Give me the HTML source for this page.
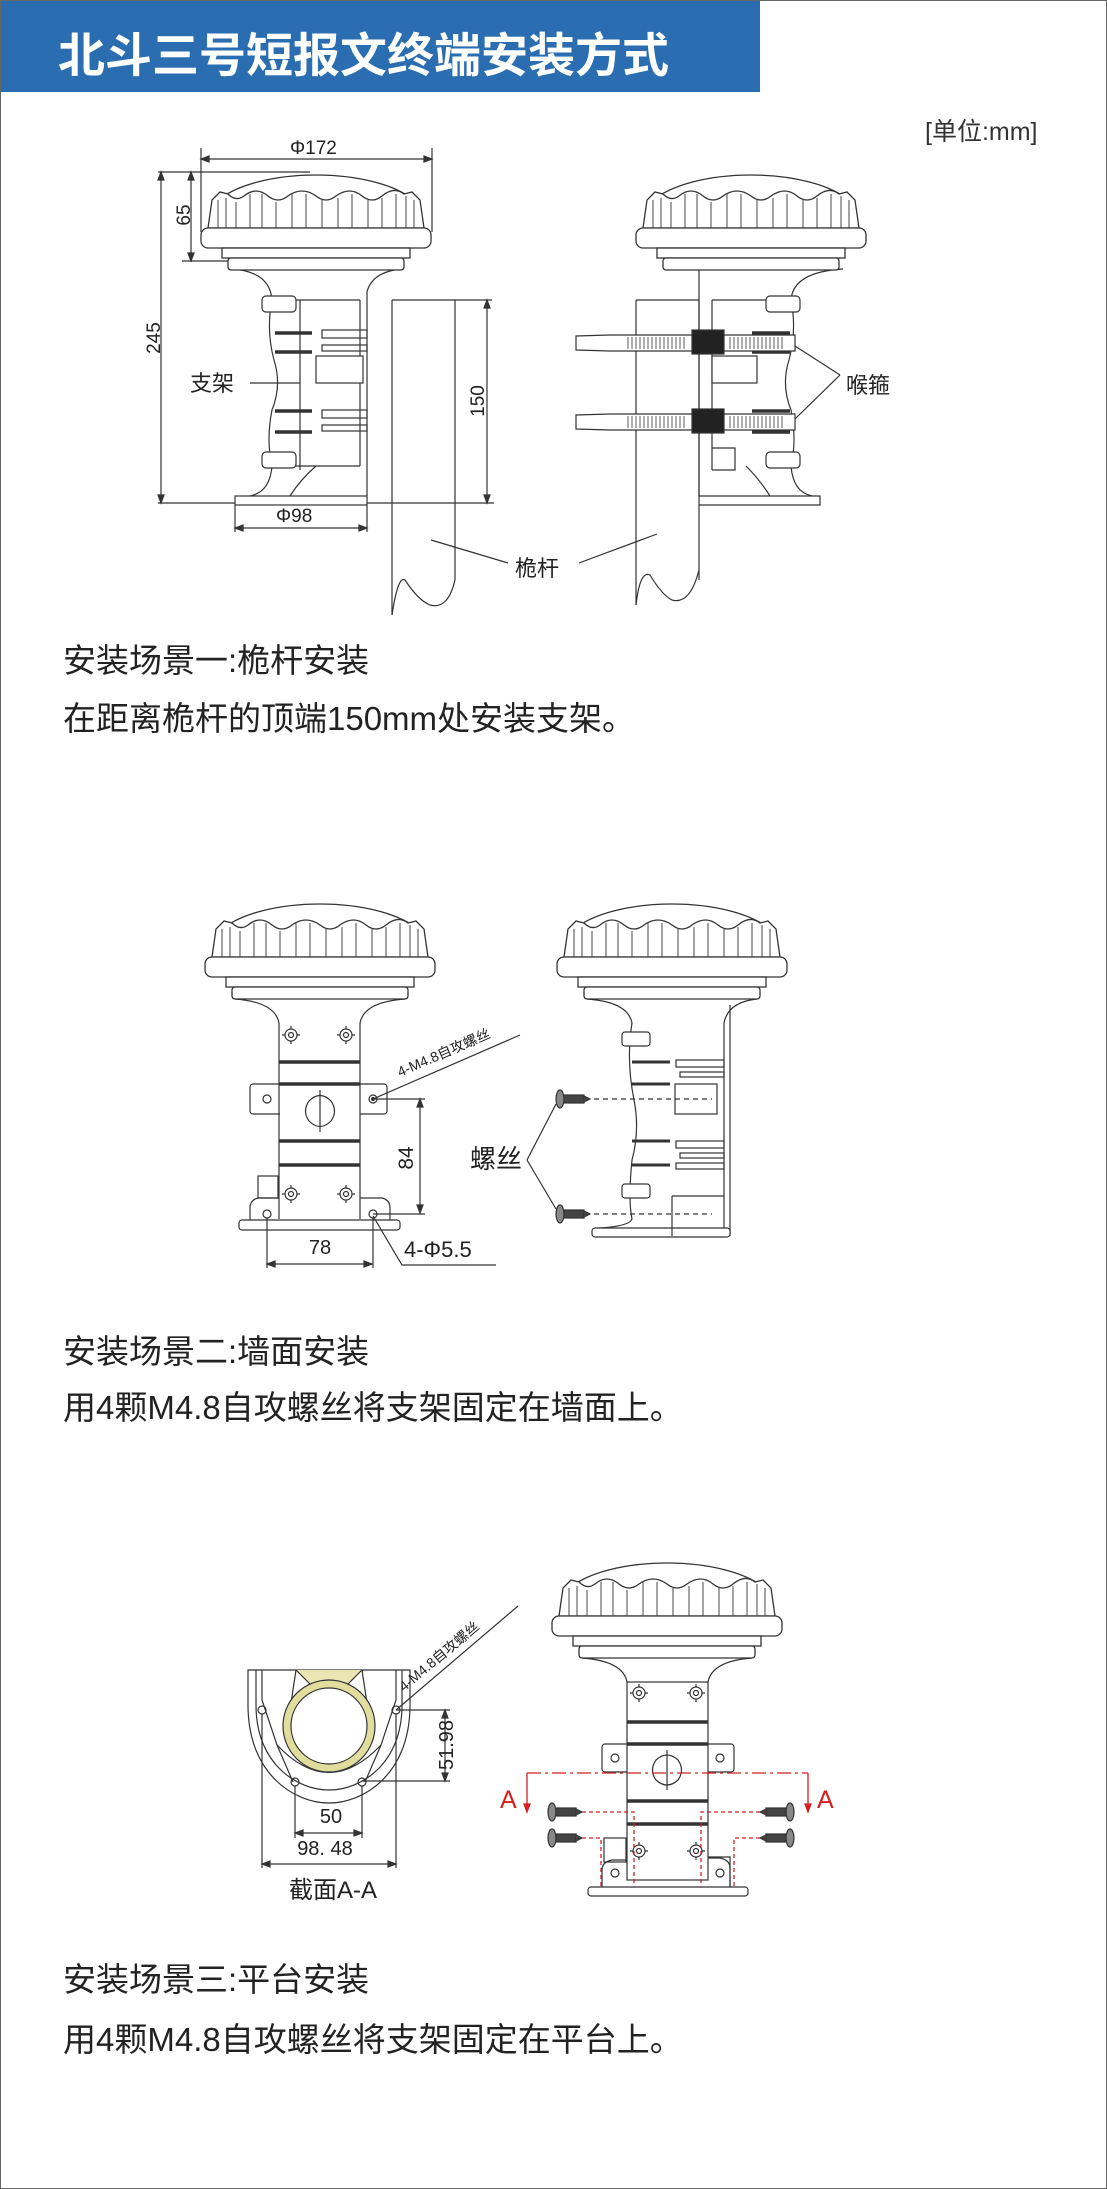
<!DOCTYPE html>
<html><head><meta charset="utf-8"><style>
html,body{margin:0;padding:0;background:#fff}
body{width:1107px;height:2189px;position:relative;overflow:hidden;font-family:"Liberation Sans","Noto Sans CJK SC",sans-serif}
.frame{position:absolute;left:0;top:0;width:1105px;height:2187px;border:1px solid #666}
.hdr{position:absolute;left:1px;top:1px;width:759px;height:91px;background:#2a6db0}
.hdr span{position:absolute;left:57px;top:16px;color:#fff;font-size:47px;font-weight:bold;letter-spacing:0px;font-family:"Liberation Sans","Noto Sans CJK SC",sans-serif;white-space:nowrap}
.t{position:absolute;color:#222;font-size:33px;white-space:nowrap;font-family:"Liberation Sans","Noto Sans CJK SC",sans-serif}
svg{position:absolute;left:0;top:0}
</style></head><body>
<div class="frame"></div>
<div class="hdr"><span>北斗三号短报文终端安装方式</span></div>
<div class="t" style="left:925px;top:112px;font-size:25px;color:#333">[单位:mm]</div>
<div class="t" style="left:63px;top:634px">安装场景一:桅杆安装</div>
<div class="t" style="left:63px;top:692px">在距离桅杆的顶端150mm处安装支架。</div>
<div class="t" style="left:63px;top:1325px">安装场景二:墙面安装</div>
<div class="t" style="left:63px;top:1381px">用4颗M4.8自攻螺丝将支架固定在墙面上。</div>
<div class="t" style="left:63px;top:1953px">安装场景三:平台安装</div>
<div class="t" style="left:63px;top:2013px">用4颗M4.8自攻螺丝将支架固定在平台上。</div>

<svg width="1107" height="2189" viewBox="0 0 1107 2189" font-family="Liberation Sans, Noto Sans CJK SC, sans-serif">
<defs>
<g id="head" fill="#fff" stroke="#333" stroke-width="1.3">
<path d="M-100 30 C-60 -6 60 -6 100 30" fill="none"/>
<path d="M-108 56 L-104 28 L-96 20 L-88 22 Q-80 30 -72 24 Q-60 14 -48 24 Q-38 32 -28 24 Q-14 14 0 24 Q10 32 20 24 Q34 14 46 24 Q56 32 66 24 Q78 14 88 22 L96 20 L104 28 L108 56 Z"/>
<path d="M-98 28V56M-90 26V56M-80 30V56M-66 22V56M-54 22V56M-40 30V56M-24 22V56M-10 22V56M6 28V56M22 26V56M36 22V56M52 28V56M66 26V56M80 22V56M90 24V56M98 28V56" fill="none" stroke-width="0.9"/>
<rect x="-115" y="56" width="230" height="20" rx="7"/>
<rect x="-94" y="76" width="188" height="10"/>
<rect x="-88" y="86" width="176" height="12" rx="3"/>
</g>
<g id="sm" fill="#fff" stroke="#333" stroke-width="1.2">
<circle r="6"/><circle r="2.5"/><path d="M0 -9V-6M0 6V9M-9 0H-6M6 0H9"/>
</g>
<g id="screwL" stroke="#333" stroke-width="1.2">
<ellipse cx="0" cy="0" rx="4" ry="9" fill="#888"/>
<rect x="4" y="-4" width="20" height="8" fill="#444"/>
<path d="M24 -3 L30 0 L24 3" fill="#444"/>
</g>
<g id="screwR" stroke="#333" stroke-width="1.2">
<ellipse cx="0" cy="0" rx="4" ry="9" fill="#888"/>
<rect x="-24" y="-4" width="20" height="8" fill="#444"/>
<path d="M-24 -3 L-30 0 L-24 3" fill="#444"/>
</g>
</defs>

<!-- ============ DIAGRAM 1 ============ -->
<g stroke="#333" stroke-width="1.2" fill="none">
<path d="M201 148V232M432 148V232M201 159H432"/>
<path d="M201 159l8 -3v6zM432 159l-8 -3v6z" fill="#333"/>
<path d="M158 172H310M182 261H230M191 172V261M161 172V503M158 503H494"/>
<path d="M161 172l-3 8h6zM161 503l-3 -8h6zM191 172l-3 8h6zM191 261l-3 -8h6z" fill="#333"/>
<path d="M235 505V532M367 505V532M235 528H367"/>
<path d="M235 528l8 -3v6zM367 528l-8 -3v6z" fill="#333"/>
<path d="M392 300V615M455 300V580M392 300H455M487 300V503M455 300H492"/>
<path d="M487 300l-3 8h6zM487 503l-3 -8h6z" fill="#333"/>
<path d="M392 615 Q398 575 405 580 Q418 600 430 605 Q448 610 455 580"/>
<path d="M233 269 Q270 272 272 300 Q266 330 274 360 Q282 385 272 410 Q266 440 272 466 Q270 492 250 496" fill="#fff"/>
<path d="M401 269 Q372 272 367 292 V496"/>
<path d="M272 300H360M300 300V470M360 300V466M272 466H360"/>
<rect x="235" y="496" width="132" height="9" fill="#fff"/>
<rect x="262" y="296" width="34" height="16" rx="4" fill="#fff"/>
<rect x="262" y="452" width="34" height="16" rx="4" fill="#fff"/>
<path d="M275 333H312M275 352H312M275 411H312M275 432H312" stroke-width="3.5"/>
<rect x="322" y="330" width="45" height="8"/><rect x="322" y="345" width="45" height="6"/>
<rect x="316" y="356" width="47" height="27" fill="#fff"/>
<rect x="322" y="410" width="45" height="8"/><rect x="322" y="425" width="45" height="6"/>
<path d="M316 466 Q300 480 290 496"/>
<path d="M250 383H300M431 540L508 563M579 563L657 534"/>
</g>
<use href="#head" x="316" y="172"/>
<g font-size="19" fill="#222">
<text x="290" y="154">Φ172</text>
<text x="276" y="522">Φ98</text>
<text transform="translate(190,215) rotate(-90)" text-anchor="middle">65</text>
<text transform="translate(160,338) rotate(-90)" text-anchor="middle">245</text>
<text transform="translate(484,401) rotate(-90)" text-anchor="middle">150</text>
<text x="190" y="391" font-size="22">支架</text>
<text x="515" y="576" font-size="22">桅杆</text>
<text x="846" y="393" font-size="22">喉箍</text>
</g>
<g stroke="#333" stroke-width="1.2" fill="none">
<path d="M636 300V605M699 300V580M636 300H699"/>
<path d="M636 605 Q640 570 650 575 Q662 595 672 600 Q690 605 699 570"/>
<path d="M843 269 Q793 272 791 300 Q797 330 789 360 Q781 385 791 410 Q797 440 791 466 Q793 492 812 496" fill="#fff"/>
<path d="M699 269V496M712 300H791M712 300V470M699 496H820V505H699"/>
<rect x="766" y="296" width="34" height="16" rx="4" fill="#fff"/>
<rect x="766" y="452" width="34" height="16" rx="4" fill="#fff"/>
<path d="M752 333H790M752 352H790M752 411H790M752 432H790" stroke-width="3.5"/>
<rect x="712" y="356" width="45" height="27" fill="#fff"/>
<path d="M712 448H735V470H712"/>
<path d="M746 466 Q760 480 770 496"/>
<path d="M576 336 L610 335 H795 V351 H610 L576 350 Z" fill="#fff"/>
<path d="M576 415 L610 414 H795 V430 H610 L576 429 Z" fill="#fff"/>
<path d="M628 337V349M632 337V349M636 337V349M640 337V349M644 337V349M648 337V349M652 337V349M656 337V349M660 337V349M664 337V349M668 337V349M672 337V349M676 337V349M680 337V349M684 337V349M730 337V349M734 337V349M738 337V349M742 337V349M746 337V349M750 337V349M754 337V349M758 337V349M762 337V349M766 337V349M770 337V349M774 337V349M778 337V349M782 337V349" stroke-width="0.8"/>
<path d="M628 416V428M632 416V428M636 416V428M640 416V428M644 416V428M648 416V428M652 416V428M656 416V428M660 416V428M664 416V428M668 416V428M672 416V428M676 416V428M680 416V428M684 416V428M730 416V428M734 416V428M738 416V428M742 416V428M746 416V428M750 416V428M754 416V428M758 416V428M762 416V428M766 416V428M770 416V428M774 416V428M778 416V428M782 416V428" stroke-width="0.8"/>
<rect x="692" y="330" width="32" height="24" fill="#222"/>
<rect x="692" y="409" width="32" height="24" fill="#222"/>
<path d="M795 346L840 375M795 419L840 375"/>
</g>
<use href="#head" x="751" y="172"/>

<!-- ============ DIAGRAM 2 ============ -->
<g stroke="#333" stroke-width="1.2" fill="none">
<path d="M235 999 Q275 1002 279 1023M405 999 Q364 1002 360 1023"/>
<rect x="250" y="1084" width="137" height="30" rx="3" fill="#fff"/>
<circle cx="267" cy="1099" r="4"/><circle cx="373" cy="1099" r="4"/><circle cx="373" cy="1099" r="1.5" fill="#333"/>
<rect x="280" y="1023" width="80" height="196" fill="#fff" stroke="none"/>
<path d="M279 1023V1219M360 1023V1219"/>
<path d="M279 1062H360M279 1084H360M279 1141H360M279 1165H360" stroke-width="3.5"/>
<path d="M309 1101 Q320 1090 331 1101 Q338 1111 331 1121 Q320 1132 309 1121 Q302 1111 309 1101Z"/>
<path d="M320 1090V1132"/>
<path d="M250 1220V1208 Q250 1200 258 1198 L279 1198M390 1220V1208 Q390 1200 382 1198 L360 1198"/>
<circle cx="267" cy="1214" r="4"/><circle cx="373" cy="1214" r="4"/>
<rect x="239" y="1220" width="161" height="10" rx="3" fill="#fff"/>
<rect x="258" y="1176" width="20" height="22"/>
<path d="M373 1099H425M373 1214H425M420 1099V1213M267 1218V1268M373 1218V1268M267 1264H372"/>
<path d="M420 1099l-3 8h6zM420 1213l-3 -8h6zM267 1264l8 -3v6zM372 1264l-8 -3v6z" fill="#333"/>
<path d="M373 1216L402 1265H496"/>
<path d="M373 1099L520 1035"/>
</g>
<use href="#head" x="320" y="901"/>
<use href="#sm" x="291" y="1035"/><use href="#sm" x="346" y="1035"/>
<use href="#sm" x="291" y="1194"/><use href="#sm" x="346" y="1194"/>
<g fill="#222">
<text transform="translate(413,1158) rotate(-90)" text-anchor="middle" font-size="21">84</text>
<text x="320" y="1254" text-anchor="middle" font-size="20">78</text>
<text x="404" y="1257" font-size="22">4-Φ5.5</text>
<text transform="translate(400,1077) rotate(-23.5)" font-size="14">4-M4.8自攻螺丝</text>
<text x="470" y="1168" font-size="26">螺丝</text>
</g>
<g stroke="#333" stroke-width="1.2" fill="none">
<path d="M587 999 Q628 1002 632 1023 Q626 1060 634 1100 Q640 1130 632 1160 Q628 1200 632 1219 Q630 1226 600 1228" fill="#fff"/>
<path d="M757 999 Q728 1002 724 1023V1236M730 1005V1236"/>
<rect x="592" y="1228" width="138" height="9" rx="3" fill="#fff"/>
<path d="M632 1062H670M632 1084H670M632 1141H670M632 1165H670" stroke-width="3"/>
<rect x="676" y="1060" width="48" height="7"/><rect x="680" y="1072" width="44" height="5"/>
<rect x="675" y="1084" width="42" height="30" fill="#fff"/>
<rect x="676" y="1141" width="48" height="7"/><rect x="680" y="1153" width="44" height="5"/>
<rect x="676" y="1163" width="48" height="6"/>
<rect x="622" y="1032" width="28" height="14" rx="3" fill="#fff"/>
<rect x="622" y="1184" width="28" height="14" rx="3" fill="#fff"/>
<path d="M672 1196H724M672 1196V1236"/>
<path d="M585 1099H712M585 1214H712" stroke-dasharray="5,4"/>
<path d="M527 1160L556 1104M527 1160L556 1209"/>
</g>
<use href="#head" x="672" y="901"/>
<use href="#screwL" x="560" y="1099"/><use href="#screwL" x="560" y="1214"/>

<!-- ============ DIAGRAM 3 ============ -->
<g stroke="#333" stroke-width="1.2" fill="none">
<path d="M248 1670V1705 C248 1775 295 1803 329 1803 C363 1803 410 1775 410 1705V1670Z" fill="#fff"/>
<path d="M256 1670V1705 C256 1765 298 1790 329 1790 C360 1790 402 1765 402 1705V1670"/>
<path d="M262 1670V1700 L277 1745 L293 1782M396 1670V1700 L381 1745 L365 1782"/>
<path d="M277 1745 Q329 1800 381 1745"/>
<path d="M296 1670 L287 1730 M362 1670 L371 1730" />
<path d="M296 1670 L312 1686 H346 L362 1670" fill="#e9e6b4"/>
<circle cx="329" cy="1726" r="42" stroke="#e1dd9c" stroke-width="7"/>
<circle cx="329" cy="1726" r="38" fill="#fff"/>
<circle cx="329" cy="1726" r="46"/>
<circle cx="262" cy="1710" r="4"/><circle cx="396" cy="1710" r="4"/>
<circle cx="295" cy="1782" r="4"/><circle cx="362" cy="1782" r="4"/>
<path d="M396 1710H450M362 1781H450M445 1710V1781"/>
<path d="M445 1710l-3 8h6zM445 1781l-3 -8h6z" fill="#333"/>
<path d="M295 1786V1838M362 1786V1838M295 1833H362M262 1714V1868M396 1714V1868M262 1864H396"/>
<path d="M295 1833l8 -3v6zM362 1833l-8 -3v6zM262 1864l8 -3v6zM396 1864l-8 -3v6z" fill="#333"/>
<path d="M396 1710L518 1606"/>
</g>
<g fill="#222">
<text transform="translate(453,1745) rotate(-90)" text-anchor="middle" font-size="20">51.98</text>
<text x="331" y="1823" text-anchor="middle" font-size="20">50</text>
<text x="325" y="1855" text-anchor="middle" font-size="20">98. 48</text>
<text x="333" y="1898" text-anchor="middle" font-size="24">截面A-A</text>
<text transform="translate(404,1692) rotate(-40)" font-size="14">4-M4.8自攻螺丝</text>
</g>
<g stroke="#333" stroke-width="1.2" fill="none">
<path d="M582 1658 Q623 1661 627 1682M752 1658 Q712 1661 708 1682"/>
<rect x="602" y="1744" width="132" height="28" rx="3" fill="#fff"/>
<circle cx="615" cy="1758" r="4"/><circle cx="720" cy="1758" r="4"/>
<rect x="627" y="1682" width="81" height="198" fill="#fff"/>
<path d="M627 1722H708M627 1744H708M627 1801H708M627 1824H708" stroke-width="3.5"/>
<path d="M656 1760 Q667 1750 678 1760 Q685 1770 678 1780 Q667 1790 656 1780 Q649 1770 656 1760Z" fill="#fff"/>
<path d="M667 1750V1790"/>
<path d="M602 1887V1870 Q602 1862 612 1860 L627 1860M730 1887V1868 Q730 1860 720 1858 L708 1858"/>
<path d="M708 1857H730V1887"/>
<circle cx="615" cy="1873" r="4"/><circle cx="720" cy="1873" r="4"/>
<rect x="604" y="1838" width="22" height="24"/>
<rect x="588" y="1887" width="160" height="9" rx="3" fill="#fff"/>
</g>
<use href="#head" x="667" y="1560"/>
<use href="#sm" x="639" y="1693"/><use href="#sm" x="696" y="1693"/>
<use href="#sm" x="639" y="1851"/><use href="#sm" x="696" y="1851"/>
<g stroke="#d42020" stroke-width="1.3" fill="none">
<path d="M527 1773H808" stroke-dasharray="14,4,3,4"/>
<path d="M527 1773V1806M808 1773V1806"/>
<path d="M527 1812l-3 -8h6zM808 1812l-3 -8h6z" fill="#d42020"/>
<path d="M575 1812H634V1887M575 1838H601V1887M760 1812H701V1887M760 1838H734V1887" stroke-dasharray="4,3"/>
</g>
<g fill="#d42020" font-size="25"><text x="500" y="1808">A</text><text x="817" y="1808">A</text></g>
<use href="#screwL" x="552" y="1812"/><use href="#screwL" x="552" y="1838"/>
<use href="#screwR" x="790" y="1812"/><use href="#screwR" x="790" y="1838"/>
</svg>
</body></html>
